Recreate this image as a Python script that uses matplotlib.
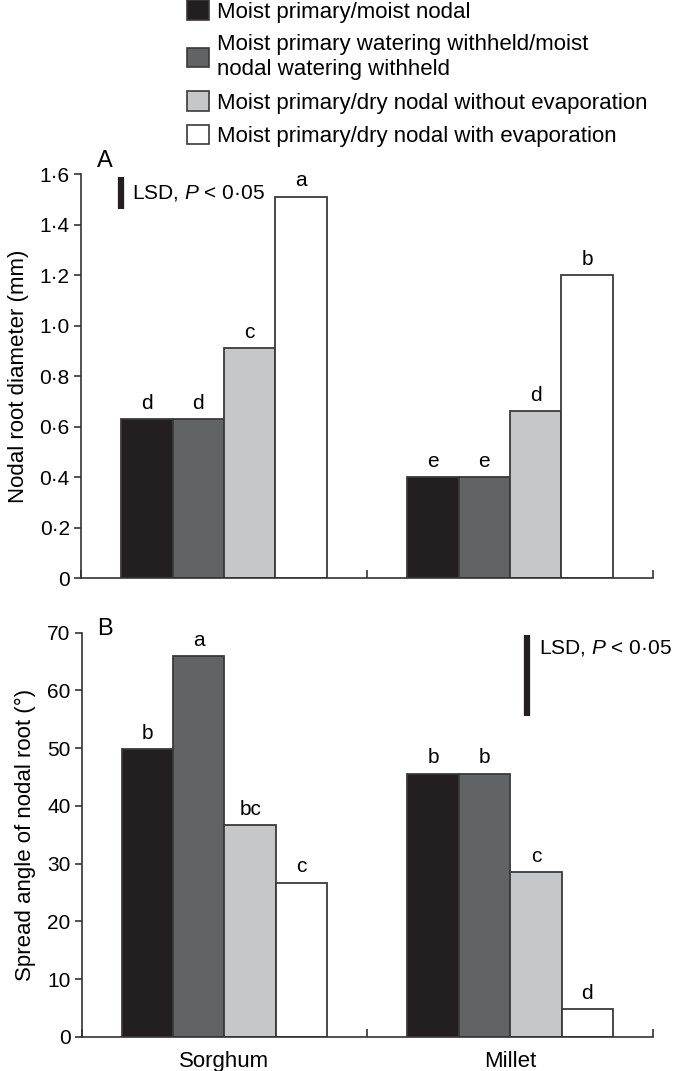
import matplotlib
matplotlib.use("Agg")
import matplotlib.pyplot as plt
from matplotlib.patches import Patch
import numpy as np

plt.rcParams['font.family'] = ['Liberation Sans', 'DejaVu Sans']
plt.rcParams['mathtext.fontset'] = 'custom'
plt.rcParams['mathtext.rm'] = 'Liberation Sans'
plt.rcParams['mathtext.it'] = 'Liberation Sans:italic'

# data
crops = ['Sorghum', 'Millet']
treatments = [
    'Moist primary/moist nodal',
    'Moist primary watering withheld/moist\nnodal watering withheld',
    'Moist primary/dry nodal without evaporation',
    'Moist primary/dry nodal with evaporation',
]
colors = ['#231f20', '#626365', '#c6c7c9', '#ffffff']

diameter = [[0.63, 0.40], [0.63, 0.40], [0.91, 0.66], [1.51, 1.20]]
diameter_letters = [['d', 'e'], ['d', 'e'], ['c', 'd'], ['a', 'b']]

angle = [[49.8, 45.6], [65.9, 45.6], [36.7, 28.5], [26.7, 4.8]]
angle_letters = [['b', 'b'], ['a', 'b'], ['bc', 'c'], ['c', 'd']]

lsd_a = 0.127
lsd_b = 14.0

yticks_a = [0, 0.2, 0.4, 0.6, 0.8, 1.0, 1.2, 1.4, 1.6]
yticklabels_a = ['0', '0·2', '0·4', '0·6', '0·8', '1·0', '1·2', '1·4', '1·6']
yticks_b = [0, 10, 20, 30, 40, 50, 60, 70]

FS = 15
LFS = 16
edge = '#3a3a3a'
bar_w = 0.18

fig = plt.figure(figsize=(6.76, 10.71), dpi=100)
ax_a = fig.add_axes([0.1198, 0.4603, 0.8462, 0.3772])
ax_b = fig.add_axes([0.1208, 0.0320, 0.8452, 0.3772])


def draw_panel(ax, values, letters, ylim, label_off):
    centers = np.arange(len(crops)) + 0.5
    for i, (vals, lets) in enumerate(zip(values, letters)):
        x = centers + (i - 1.5) * bar_w
        ax.bar(x, vals, width=bar_w, color=colors[i], edgecolor=edge,
               linewidth=1.3, zorder=2)
        for xi, v, t in zip(x, vals, lets):
            ax.text(xi, v + label_off, t, ha='center', va='bottom', fontsize=FS)
    ax.set_xlim(0, 2)
    ax.set_ylim(*ylim)
    for s in ['top', 'right']:
        ax.spines[s].set_visible(False)
    for s in ['left', 'bottom']:
        ax.spines[s].set_linewidth(1.2)
        ax.spines[s].set_color('#333333')
    ax.set_xticks([0, 1, 2])
    ax.set_xticklabels([])
    ax.tick_params(axis='x', direction='in', length=6, width=1.2, color='#333333')
    ax.tick_params(axis='y', direction='out', length=5, width=1.2,
                   color='#333333', labelsize=FS, pad=3)


draw_panel(ax_a, diameter, diameter_letters, (0, 1.6), 0.025)
ax_a.set_yticks(yticks_a)
ax_a.set_yticklabels(yticklabels_a)
ax_a.set_ylabel('Nodal root diameter (mm)', fontsize=LFS, labelpad=8)
ax_a.text(0.055, 1.61, 'A', fontsize=17, ha='left', va='bottom')
ax_a.plot([0.14, 0.14], [1.461, 1.461 + lsd_a], color='#231f20', lw=4.5,
          solid_capstyle='butt', clip_on=False)
ax_a.text(0.18, 1.525, r'LSD, $P$ < 0·05', fontsize=FS, va='center', ha='left')

draw_panel(ax_b, angle, angle_letters, (0, 70), 1.1)
ax_b.set_yticks(yticks_b)
ax_b.set_ylabel('Spread angle of nodal root (°)', fontsize=LFS, labelpad=8)
ax_b.text(0.055, 68.8, 'B', fontsize=17, ha='left', va='bottom')
ax_b.plot([1.56, 1.56], [55.6, 55.6 + lsd_b], color='#231f20', lw=4.5,
          solid_capstyle='butt', clip_on=False)
ax_b.text(1.6, 67.3, r'LSD, $P$ < 0·05', fontsize=FS, va='center', ha='left')
for c, name in zip(np.arange(len(crops)) + 0.5, crops):
    ax_b.text(c, -2.4, name, ha='center', va='top', fontsize=LFS)

handles = [Patch(facecolor=c, edgecolor=edge, linewidth=1.2) for c in colors]
leg = fig.legend(handles, treatments, loc='upper left',
                 bbox_to_anchor=(0.2766, 1.0), frameon=False, fontsize=16,
                 handlelength=0.95, handleheight=0.95, handletextpad=0.4,
                 labelspacing=0.5, borderaxespad=0, borderpad=0.02)
for t in leg.get_texts():
    t.set_linespacing(1.28)

fig.savefig('out.png', dpi=100)
